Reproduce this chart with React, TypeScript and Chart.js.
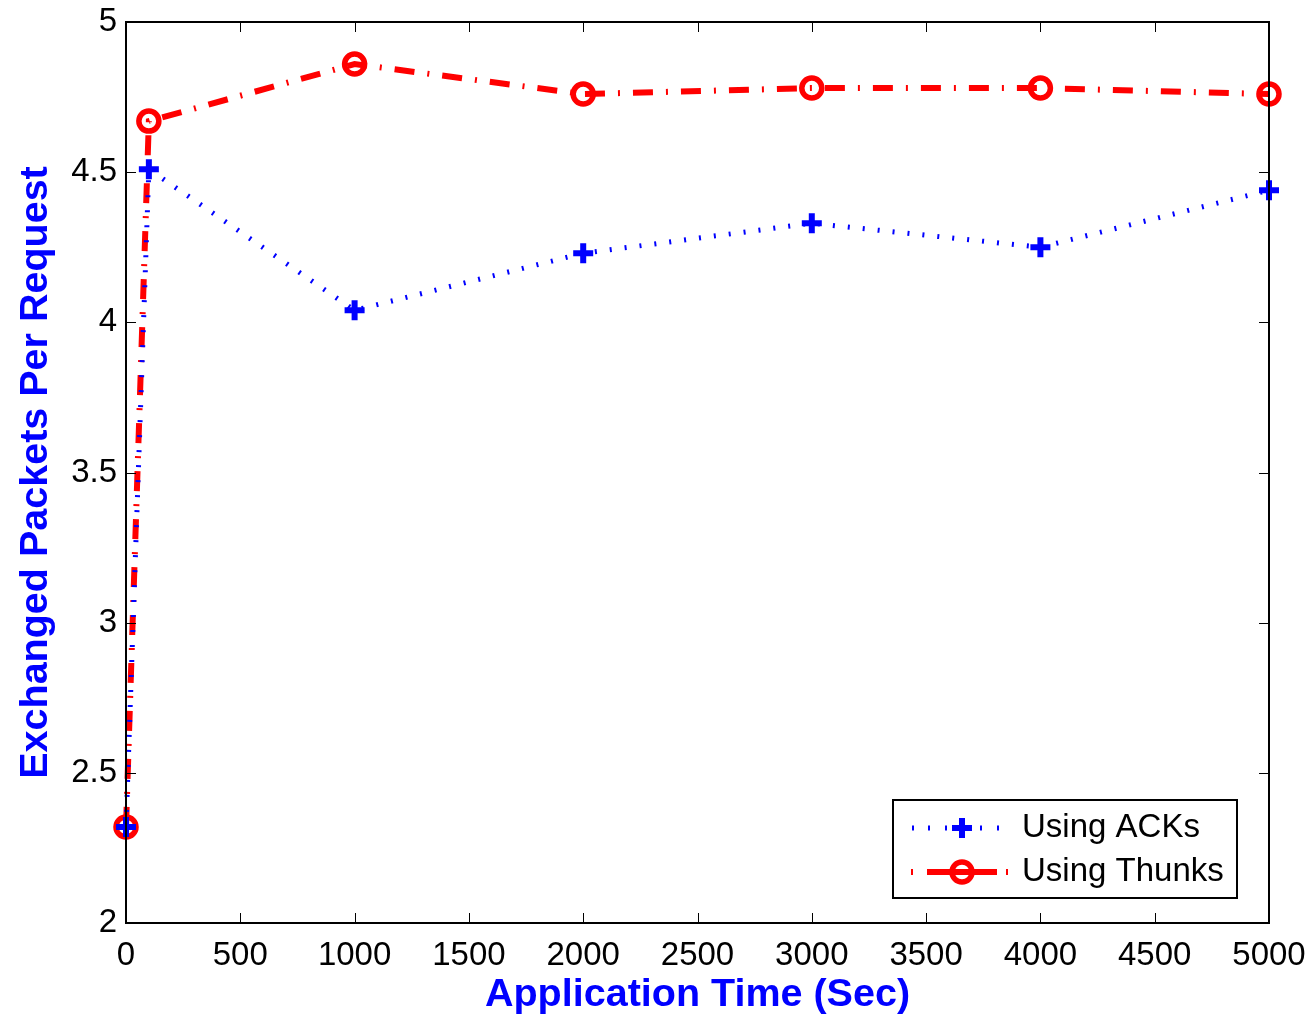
import React, { useEffect, useRef } from "react";
import { Chart, registerables } from "chart.js";

Chart.register(...registerables);

const timeSec = [0, 100, 1000, 2000, 3000, 4000, 5000];
const usingAcks = [2.32, 4.51, 4.04, 4.23, 4.33, 4.25, 4.44];
const usingThunks = [2.32, 4.67, 4.86, 4.76, 4.78, 4.78, 4.76];
const seriesNames = ["Using ACKs", "Using Thunks"];
const xTitle = "Application Time (Sec)";
const yTitle = "Exchanged Packets Per Request";

const FONT = "'Liberation Sans', Arial, Helvetica, sans-serif";
const BLUE = "#0000ff";
const RED = "#ff0000";

const framePlugin = {
  id: "matlabFrame",
  afterDraw(chart: any) {
    const ctx = chart.ctx;
    const { left, right, top, bottom } = chart.chartArea;
    const xs = chart.scales.x;
    const ys = chart.scales.y;
    ctx.save();
    ctx.strokeStyle = "#000";
    ctx.lineWidth = 1;
    const tl = 10;
    xs.ticks.forEach((t: any) => {
      const px = Math.round(xs.getPixelForValue(t.value)) + 0.5;
      ctx.beginPath();
      ctx.moveTo(px, bottom);
      ctx.lineTo(px, bottom - tl);
      ctx.moveTo(px, top);
      ctx.lineTo(px, top + tl);
      ctx.stroke();
    });
    ys.ticks.forEach((t: any) => {
      const py = Math.round(ys.getPixelForValue(t.value)) + 0.5;
      ctx.beginPath();
      ctx.moveTo(left, py);
      ctx.lineTo(left + tl, py);
      ctx.moveTo(right, py);
      ctx.lineTo(right - tl, py);
      ctx.stroke();
    });
    ctx.lineWidth = 2;
    ctx.strokeRect(left, top, right - left, bottom - top);

    // legend
    const lx = 893, ly = 800, lw = 344, lh = 98;
    ctx.fillStyle = "#fff";
    ctx.fillRect(lx, ly, lw, lh);
    ctx.lineWidth = 2;
    ctx.strokeStyle = "#000";
    ctx.strokeRect(lx, ly, lw, lh);

    const rows = [ly + 28, ly + 72];
    const mx = 962;
    ctx.strokeStyle = BLUE;
    ctx.lineWidth = 5;
    [912, 928, 945, 980, 997].forEach((dx) => {
      ctx.beginPath();
      ctx.moveTo(dx, rows[0]);
      ctx.lineTo(dx + 2, rows[0]);
      ctx.stroke();
    });
    ctx.lineWidth = 6;
    ctx.beginPath();
    ctx.moveTo(mx - 10, rows[0]);
    ctx.lineTo(mx + 10, rows[0]);
    ctx.moveTo(mx, rows[0] - 10);
    ctx.lineTo(mx, rows[0] + 10);
    ctx.stroke();
    ctx.strokeStyle = RED;
    ctx.lineWidth = 6;
    [[911, 913], [927, 997], [1006, 1008]].forEach(([a, b]) => {
      ctx.beginPath();
      ctx.moveTo(a, rows[1]);
      ctx.lineTo(b, rows[1]);
      ctx.stroke();
    });
    ctx.lineWidth = 5.5;
    ctx.beginPath();
    ctx.arc(mx, rows[1], 10, 0, Math.PI * 2);
    ctx.stroke();

    ctx.fillStyle = "#000";
    ctx.font = `33px ${FONT}`;
    ctx.textBaseline = "middle";
    ctx.textAlign = "left";
    ctx.fillText(seriesNames[0], 1022, rows[0]);
    ctx.fillText(seriesNames[1], 1022, rows[1]);
    ctx.restore();
  },
};

const zeroPad = (s: any) => {
  s.paddingTop = 0;
  s.paddingBottom = 0;
  s.paddingLeft = 0;
  s.paddingRight = 0;
};

export default function App() {
  const ref = useRef<HTMLCanvasElement | null>(null);
  useEffect(() => {
    if (!ref.current) return;
    const chart = new Chart(ref.current, {
      type: "line",
      data: {
        datasets: [
          {
            label: seriesNames[0],
            data: timeSec.map((x, i) => ({ x, y: usingAcks[i] })),
            borderColor: BLUE,
            backgroundColor: BLUE,
            borderWidth: 5,
            borderDash: [2, 13],
            pointStyle: "cross",
            pointRadius: 10,
            pointBorderWidth: 6,
            pointBorderColor: BLUE,
            clip: false,
          } as any,
          {
            label: seriesNames[1],
            data: timeSec.map((x, i) => ({ x, y: usingThunks[i] })),
            borderColor: RED,
            backgroundColor: "rgba(0,0,0,0)",
            borderWidth: 6,
            borderDash: [20, 13, 2, 13],
            pointStyle: "circle",
            pointRadius: 10,
            pointBorderWidth: 5.5,
            pointBorderColor: RED,
            pointBackgroundColor: "rgba(0,0,0,0)",
            clip: false,
          } as any,
        ],
      },
      options: {
        animation: false,
        responsive: false,
        maintainAspectRatio: false,
        events: [],
        layout: { padding: { top: 22, right: 45, left: 0, bottom: 0 } },
        plugins: {
          legend: { display: false },
          tooltip: { enabled: false },
        },
        scales: {
          x: {
            type: "linear",
            min: 0,
            max: 5000,
            grid: { display: false, drawTicks: false },
            border: { display: false },
            ticks: {
              stepSize: 500,
              autoSkip: false,
              maxRotation: 0,
              padding: 13,
              color: "#000",
              font: { family: FONT, size: 33 },
              callback: (v: any) => String(v),
            },
            title: {
              display: true,
              text: xTitle,
              color: BLUE,
              font: { family: FONT, size: 39.5, weight: "bold" },
              padding: { top: 0, bottom: 0 },
            },
            afterFit: (s: any) => {
              s.height = 96;
              zeroPad(s);
            },
          },
          y: {
            type: "linear",
            min: 2,
            max: 5,
            grid: { display: false, drawTicks: false },
            border: { display: false },
            ticks: {
              stepSize: 0.5,
              padding: 9,
              color: "#000",
              font: { family: FONT, size: 33 },
              callback: (v: any) => String(v),
            },
            title: {
              display: true,
              text: yTitle,
              color: BLUE,
              font: { family: FONT, size: 39.5, weight: "bold" },
              padding: { top: 12, bottom: 0 },
            },
            afterFit: (s: any) => {
              s.width = 126;
              zeroPad(s);
            },
          },
        },
      },
      plugins: [framePlugin],
    });
    return () => chart.destroy();
  }, []);
  return (
    <div style={{ position: "absolute", left: 0, top: 0, width: 1314, height: 1019, background: "#fff" }}>
      <canvas ref={ref} width={1314} height={1019} style={{ display: "block" }} />
    </div>
  );
}
